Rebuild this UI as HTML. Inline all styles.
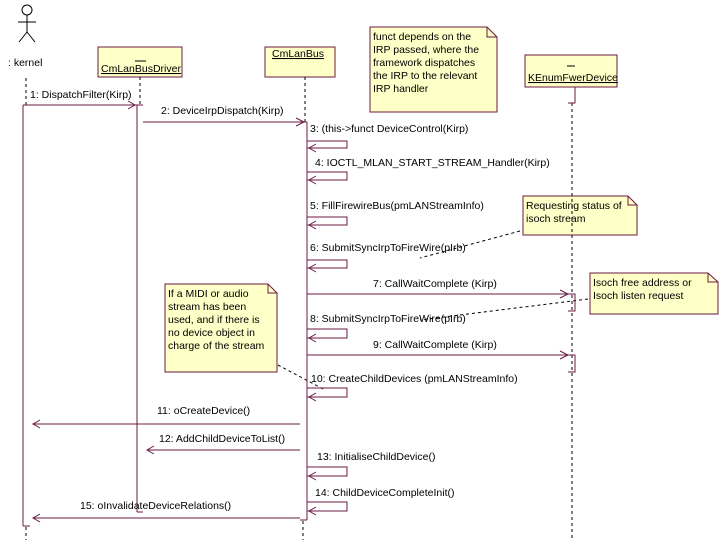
<!DOCTYPE html>
<html><head><meta charset="utf-8"><style>
html,body{margin:0;padding:0;background:#fff;}
svg{display:block;}
text{font-family:"Liberation Sans",sans-serif;font-size:10.5px;fill:#000;}
</style></head><body>
<svg width="720" height="540" xmlns="http://www.w3.org/2000/svg">
<g stroke="#000" fill="none" stroke-width="1">
<circle cx="27" cy="10" r="5"/>
<line x1="27" y1="15" x2="27" y2="32"/>
<line x1="18" y1="22" x2="36" y2="22"/>
<line x1="27" y1="32" x2="19" y2="42"/>
<line x1="27" y1="32" x2="35" y2="42"/>
</g>
<text x="8" y="66">: kernel</text>
<g fill="#ffffc8" stroke="#6b1a40">
<rect x="98" y="47" width="84" height="30"/>
<rect x="265" y="47" width="70" height="30"/>
<rect x="525" y="55" width="92" height="32"/>
<path d="M370 27 H487 L497 37 V112 H370 Z"/>
<path d="M523 196 H628 L637 205 V235 H523 Z"/>
<path d="M590 273 H708 L718 282 V314 H590 Z"/>
<path d="M165 284 H268 L277 293 V372 H165 Z"/>
</g>
<g fill="none" stroke="#6b1a40">
<path d="M487 27 V37 H497"/><path d="M628 196 V205 H637"/><path d="M708 273 V282 H718"/><path d="M268 284 V293 H277"/>
</g>
<text x="101" y="72" text-decoration="underline">CmLanBusDriver</text>
<line x1="135" y1="61" x2="146" y2="61" stroke="#000"/>
<text x="272" y="57" text-decoration="underline">CmLanBus</text>
<text x="528" y="81" text-decoration="underline">KEnumFwerDevice</text>
<line x1="567" y1="66" x2="575" y2="66" stroke="#000"/>
<g font-size="10.5">
<text x="373" y="40">funct depends on the</text>
<text x="373" y="53">IRP passed, where the</text>
<text x="373" y="66">framework dispatches</text>
<text x="373" y="79">the IRP to the relevant</text>
<text x="373" y="92">IRP handler</text>
<text x="526" y="209">Requesting status of</text>
<text x="526" y="222">isoch stream</text>
<text x="593" y="286">Isoch free address or</text>
<text x="593" y="299">Isoch listen request</text>
<text x="168" y="297">If a MIDI or audio</text>
<text x="168" y="310">stream has been</text>
<text x="168" y="323">used, and if there is</text>
<text x="168" y="336">no device object in</text>
<text x="168" y="349">charge of the stream</text>
</g>
<g stroke="#000" stroke-dasharray="3,3" fill="none">
<line x1="26" y1="78" x2="26" y2="105"/>
<line x1="26" y1="527" x2="26" y2="540"/>
<line x1="140" y1="77" x2="140" y2="105"/>
<line x1="305" y1="77" x2="305" y2="122"/>
<line x1="303" y1="521" x2="303" y2="540"/>
<line x1="572" y1="103" x2="572" y2="540"/>
<line x1="520" y1="231" x2="420" y2="258"/>
<line x1="588" y1="299" x2="420" y2="320"/>
<line x1="278" y1="365" x2="325" y2="390"/>
</g>
<g stroke="#6b1a40" fill="none">
<line x1="23" y1="105" x2="23" y2="526"/><line x1="23" y1="526" x2="30" y2="526"/>
<line x1="137" y1="105" x2="137" y2="512"/><line x1="137" y1="512" x2="143" y2="512"/>
<line x1="23" y1="105" x2="143" y2="105"/>
<line x1="307" y1="122" x2="307" y2="520"/><line x1="300" y1="520" x2="307" y2="520"/>
<path d="M568 87 H575 V103 H568"/>
<path d="M568 294 H575 V311 H568"/>
<path d="M568 355 H575 V372 H568"/>
<line x1="143" y1="122" x2="307" y2="122"/>
<line x1="307" y1="294" x2="568" y2="294"/>
<line x1="307" y1="355" x2="568" y2="355"/>
<line x1="300" y1="424" x2="33" y2="424"/>
<line x1="300" y1="450" x2="147" y2="450"/>
<line x1="300" y1="518" x2="33" y2="518"/>
<path d="M307 141 H347 V148 H307"/>
<path d="M307 172 H347 V180 H307"/>
<path d="M307 217 H347 V225 H307"/>
<path d="M307 260 H347 V268 H307"/>
<path d="M307 329 H347 V338 H307"/>
<path d="M307 388 H347 V397 H307"/>
<path d="M307 467 H347 V476 H307"/>
<path d="M307 502 H347 V511 H307"/>
<path d="M128 101 L135 105 L128 109"/>
<path d="M296 118 L304 122 L296 126"/>
<path d="M560 290 L568 294 L560 298"/>
<path d="M560 351 L568 355 L560 359"/>
<path d="M316 144 L309 148 L316 152"/>
<path d="M316 176 L309 180 L316 184"/>
<path d="M316 221 L309 225 L316 229"/>
<path d="M316 264 L309 268 L316 272"/>
<path d="M316 334 L309 338 L316 342"/>
<path d="M316 393 L309 397 L316 401"/>
<path d="M316 472 L309 476 L316 480"/>
<path d="M316 507 L309 511 L316 515"/>
<path d="M40 420 L33 424 L40 428"/>
<path d="M154 446 L147 450 L154 454"/>
<path d="M40 514 L33 518 L40 522"/>
</g>
<text x="30" y="98">1: DispatchFilter(Kirp)</text>
<text x="161" y="114">2: DeviceIrpDispatch(Kirp)</text>
<text x="310" y="132">3: (this-&gt;funct DeviceControl(Kirp)</text>
<text x="315" y="166">4: IOCTL_MLAN_START_STREAM_Handler(Kirp)</text>
<text x="310" y="209">5: FillFirewireBus(pmLANStreamInfo)</text>
<text x="310" y="251">6: SubmitSyncIrpToFireWire(pIrb)</text>
<text x="373" y="287">7: CallWaitComplete (Kirp)</text>
<text x="310" y="322">8: SubmitSyncIrpToFireWire(pIrb)</text>
<text x="373" y="348">9: CallWaitComplete (Kirp)</text>
<text x="311" y="382">10: CreateChildDevices (pmLANStreamInfo)</text>
<text x="157" y="414">11: oCreateDevice()</text>
<text x="159" y="442">12: AddChildDeviceToList()</text>
<text x="317" y="460">13: InitialiseChildDevice()</text>
<text x="315" y="496">14: ChildDeviceCompleteInit()</text>
<text x="80" y="509">15: oInvalidateDeviceRelations()</text>
</svg>
</body></html>
